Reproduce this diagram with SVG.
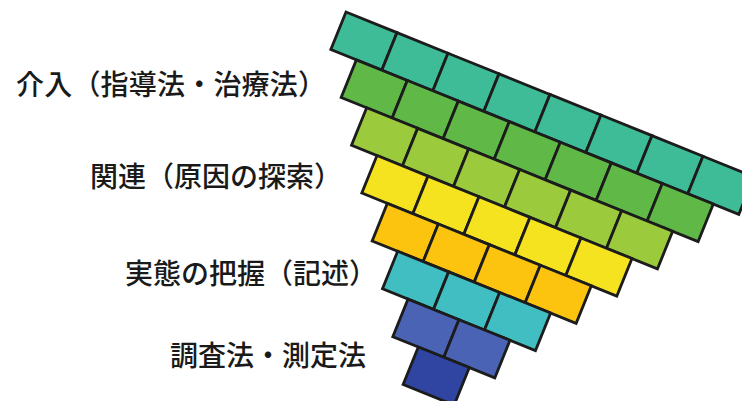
<svg xmlns="http://www.w3.org/2000/svg" width="742" height="401" viewBox="0 0 742 401">
<style>
.t rect{stroke:#1c1c1c;stroke-width:2.8;stroke-linejoin:miter}
.r1 rect{fill:#3ebc97}
.r2 rect{fill:#60b947}
.r3 rect{fill:#9bca3c}
.r4 rect{fill:#f6e31f}
.r5 rect{fill:#fcc40e}
.r6 rect{fill:#41bec2}
.r7 rect{fill:#4a63b5}
.r8 rect{fill:#2f45a1}
.lbl{font-family:"Noto Sans CJK JP","Noto Sans CJK SC",sans-serif;font-size:28px;font-weight:500;fill:#1a1a1a}
</style>
<rect width="742" height="401" fill="#ffffff"/>
<g id="pyramid">
<g id="row1" class="t r1" transform="translate(346,12) rotate(22)">
<rect x="0" y="0" width="55" height="40.5"/><rect x="55" y="0" width="55" height="40.5"/><rect x="110" y="0" width="55" height="40.5"/><rect x="165" y="0" width="55" height="40.5"/><rect x="220" y="0" width="55" height="40.5"/><rect x="275" y="0" width="55" height="40.5"/><rect x="330" y="0" width="55" height="40.5"/><rect x="385" y="0" width="55" height="40.5"/>
</g>
<g id="row2" class="t r2" transform="translate(356.33,59.85) rotate(22)">
<rect x="0" y="0" width="55" height="40.5"/><rect x="55" y="0" width="55" height="40.5"/><rect x="110" y="0" width="55" height="40.5"/><rect x="165" y="0" width="55" height="40.5"/><rect x="220" y="0" width="55" height="40.5"/><rect x="275" y="0" width="55" height="40.5"/><rect x="330" y="0" width="55" height="40.5"/>
</g>
<g id="row3" class="t r3" transform="translate(366.66,107.7) rotate(22)">
<rect x="0" y="0" width="55" height="40.5"/><rect x="55" y="0" width="55" height="40.5"/><rect x="110" y="0" width="55" height="40.5"/><rect x="165" y="0" width="55" height="40.5"/><rect x="220" y="0" width="55" height="40.5"/><rect x="275" y="0" width="55" height="40.5"/>
</g>
<g id="row4" class="t r4" transform="translate(376.99,155.55) rotate(22)">
<rect x="0" y="0" width="55" height="40.5"/><rect x="55" y="0" width="55" height="40.5"/><rect x="110" y="0" width="55" height="40.5"/><rect x="165" y="0" width="55" height="40.5"/><rect x="220" y="0" width="55" height="40.5"/>
</g>
<g id="row5" class="t r5" transform="translate(387.32,203.4) rotate(22)">
<rect x="0" y="0" width="55" height="40.5"/><rect x="55" y="0" width="55" height="40.5"/><rect x="110" y="0" width="55" height="40.5"/><rect x="165" y="0" width="55" height="40.5"/>
</g>
<g id="row6" class="t r6" transform="translate(397.65,251.25) rotate(22)">
<rect x="0" y="0" width="55" height="40.5"/><rect x="55" y="0" width="55" height="40.5"/><rect x="110" y="0" width="55" height="40.5"/>
</g>
<g id="row7" class="t r7" transform="translate(407.98,299.1) rotate(22)">
<rect x="0" y="0" width="55" height="40.5"/><rect x="55" y="0" width="55" height="40.5"/>
</g>
<g id="row8" class="t r8" transform="translate(418.31,346.95) rotate(22)">
<rect x="0" y="0" width="55" height="40.5"/>
</g>
</g>
<g id="labels">
<text id="label1" class="lbl" x="16" y="95" textLength="310">介入（指導法・治療法）</text>
<text id="label2" class="lbl" x="90" y="187">関連（原因の探索）</text>
<text id="label3" class="lbl" x="125" y="284">実態の把握（記述）</text>
<text id="label4" class="lbl" x="170" y="366">調査法・測定法</text>
</g>
</svg>
